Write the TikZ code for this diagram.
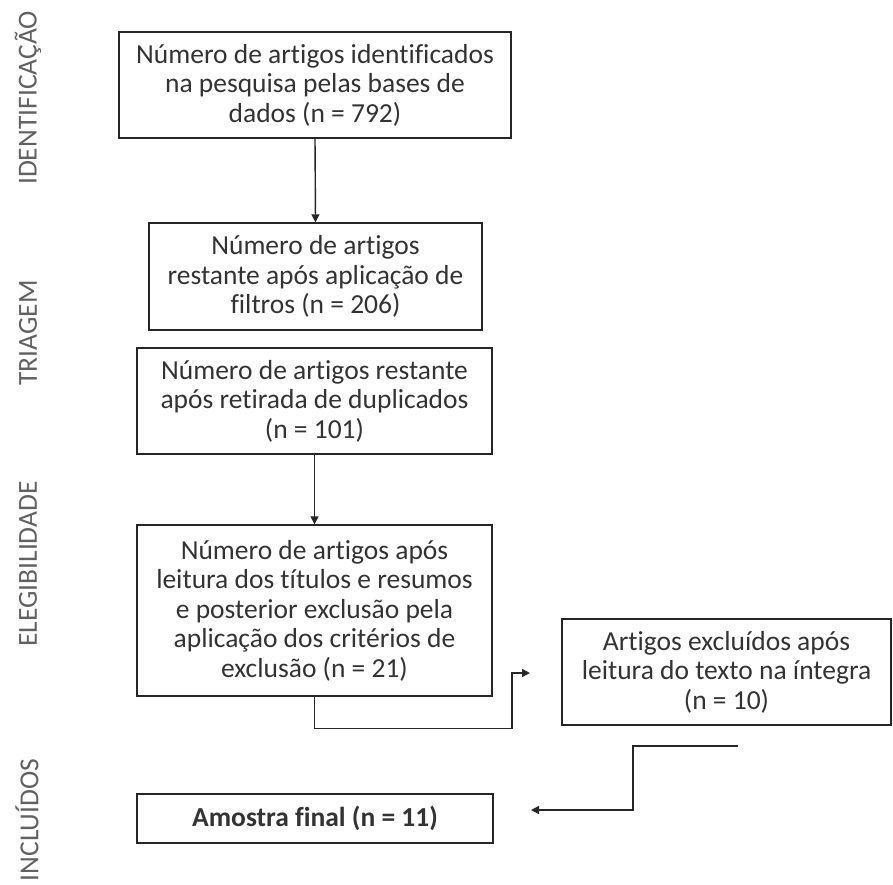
\documentclass[tikz,border=0pt]{standalone}
\usepackage{fontspec}
\setmainfont{Carlito}[Ligatures=NoCommon]
\usetikzlibrary{arrows.meta}

\tikzset{
  caixa/.style={draw=black!85, line width=1.4pt, align=center, inner sep=0pt,
    text=black!80, font=\fontsize{27.5}{29.5}\selectfont},
  fase/.style={rotate=90, text=black!62, font=\fontsize{27.5}{29}\selectfont},
  seta/.style={draw=black!85, line width=1.4pt, -{Triangle[length=8pt,width=8pt]}}
}

\begin{document}
\begin{tikzpicture}[x=1pt,y=-1pt]
        % Moldura
        \clip (0,0) rectangle (893,884);

        % Rótulos das fases
        \node[fase] (identificacao) at (28,98) {IDENTIFICAÇÃO};
        \node[fase] (triagem) at (28,333) {TRIAGEM};
        \node[fase] (elegibilidade) at (28,564) {ELEGIBILIDADE};
        \node[fase] (incluidos) at (27,820) {INCLUÍDOS};

        % Caixas
        \node[caixa, minimum width=392pt, minimum height=106pt] (bases) at (315,85)
            {Número de artigos identificados\\na pesquisa pelas bases de\\dados (n = 792)};
        \node[caixa, minimum width=333pt, minimum height=107pt] (filtros) at (315.5,276.5)
            {Número de artigos\\restante após aplicação de\\filtros (n = 206)};
        \node[caixa, minimum width=355pt, minimum height=106pt] (duplicados) at (314.5,401)
            {Número de artigos restante\\após retirada de duplicados\\(n = 101)};
        \node[caixa, minimum width=355pt, minimum height=171pt] (leitura) at (314.5,610.5)
            {Número de artigos após\\leitura dos títulos e resumos\\e posterior exclusão pela\\aplicação dos critérios de\\exclusão (n = 21)};
        \node[caixa, minimum width=329pt, minimum height=106pt] (excluidos) at (726.5,672)
            {Artigos excluídos após\\leitura do texto na íntegra\\(n = 10)};
        \node[caixa, minimum width=356pt, minimum height=49pt] (amostra) at (315,818.5)
            {\bfseries Amostra final (n = 11)};

        % Pontos soltos dos conectores
        \coordinate (desvio) at (512,673);
        \coordinate (pontaA) at (530,673);
        \coordinate (inicioB) at (738,746);
        \coordinate (pontaB) at (531,810);

        % Setas
        \draw[seta] (bases.south) -- (filtros.north);
        \draw[seta] (duplicados.south) -- (leitura.north);
        \draw[seta] (leitura.south) -- ++(0,32) -| (desvio) -- (pontaA);
        \draw[seta] (inicioB) -- (633,746) |- (pontaB);
\end{tikzpicture}
\end{document}
